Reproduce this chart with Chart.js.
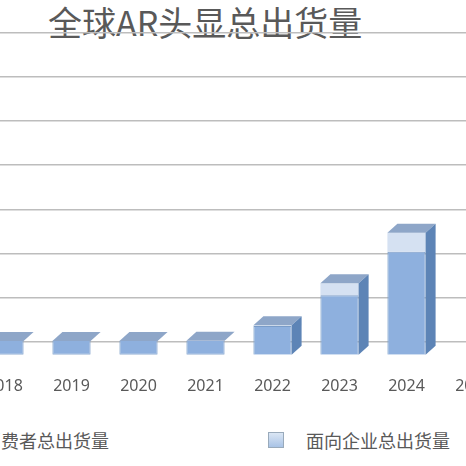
<!DOCTYPE html><html><head><meta charset="utf-8">
<script src="https://cdn.jsdelivr.net/npm/chart.js@4"></script>
<style>body{margin:0;width:466px;height:466px;overflow:hidden;background:#fff;position:relative;font-family:"Noto Sans CJK SC",sans-serif}
#t{position:absolute;left:48px;top:-2px;font-size:34px;color:#595959;line-height:48px}
#w{position:absolute;left:-96px;top:0;width:603px;height:410px}
.lg{position:absolute;top:427px;font-size:18px;color:#595959;white-space:nowrap}
.mk{position:absolute;top:432px;width:14px;height:14px}
</style></head><body>
<div id="t">全球AR头显总出货量</div>
<div id="w"><canvas id="c"></canvas></div>
<div class="mk" style="left:-40px;background:#86a8d6"></div><div class="lg" style="left:-17px">消费者总出货量</div>
<div class="mk" style="left:268px;background:linear-gradient(#dbe6f4,#a9c3e6);border:1px solid #9ab"></div><div class="lg" style="left:306px">面向企业总出货量</div>
<script>
const years=["2017","2018","2019","2020","2021","2022","2023","2024","2025"];
const consumer=[2,2,2,2,3,36,106,204,null];
const enterprise=[0,0,0,0,0,2,27,43,null];
const BASE=-29;
const depth={id:'depth',afterDatasetsDraw(ch){const ctx=ch.ctx;const m0=ch.getDatasetMeta(0),m1=ch.getDatasetMeta(1);
 m0.data.forEach((b0,i)=>{if(consumer[i]==null)return;const b1=m1.data[i];const top=Math.min(b0.y,b1.y);const L=b0.x-b0.width/2,R=b0.x+b0.width/2,bot=b0.base;const dx=10,dy=9;
 ctx.save();ctx.fillStyle='#8ea6c8';ctx.beginPath();ctx.moveTo(L,top);ctx.lineTo(L+dx,top-dy);ctx.lineTo(R+dx,top-dy);ctx.lineTo(R,top);ctx.closePath();ctx.fill();
 ctx.fillStyle='#5d84b6';ctx.beginPath();ctx.moveTo(R,top);ctx.lineTo(R+dx,top-dy);ctx.lineTo(R+dx,bot-dy);ctx.lineTo(R,bot);ctx.closePath();ctx.fill();ctx.restore();});}};
new Chart(document.getElementById('c'),{type:'bar',
data:{labels:years,datasets:[
{label:'消费者总出货量',data:consumer.map(v=>v==null?null:[BASE,v]),backgroundColor:'#8eb0de',borderColor:'#7a9cc8',borderWidth:1,grouped:false,barPercentage:0.57,categoryPercentage:1},
{label:'面向企业总出货量',data:consumer.map((v,i)=>v==null?null:[v,v+enterprise[i]]),backgroundColor:'#d5e1f2',borderWidth:0,grouped:false,barPercentage:0.57,categoryPercentage:1}]},
options:{responsive:true,maintainAspectRatio:false,animation:false,layout:{padding:{top:0,bottom:0}},
plugins:{legend:{display:false},tooltip:{enabled:false}},
scales:{x:{grid:{display:false},border:{display:false},ticks:{color:'#595959',font:{size:16,family:'Noto Sans'},padding:14}},
y:{min:BASE,max:774,display:true,border:{display:false},ticks:{display:false},afterBuildTicks(a){a.ticks=[0,100,200,300,400,500,600,700].map(v=>({value:v}));},grid:{color:'#bdbdbd',lineWidth:1.5,drawTicks:false}}}},
plugins:[depth]});
</script></body></html>
